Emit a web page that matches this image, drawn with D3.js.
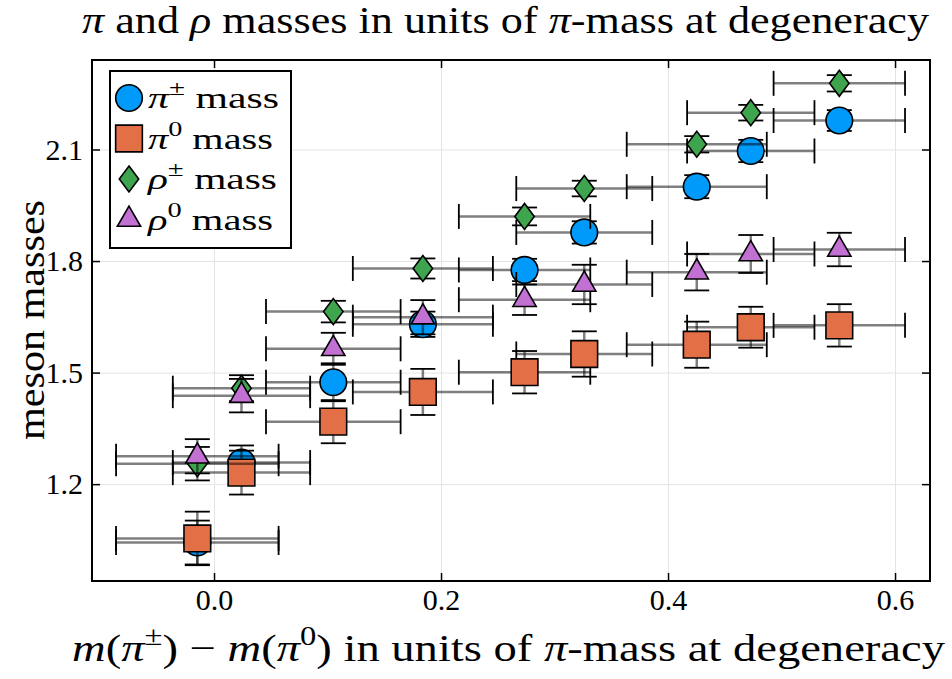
<!DOCTYPE html>
<html>
<head>
<meta charset="utf-8">
<script src="https://cdn.jsdelivr.net/npm/d3@7"></script>
<style>
  body { margin: 0; background: #fff; }
  svg { display: block; font-family: "Liberation Serif", "Times New Roman", serif; }
  text { white-space: pre; }
  .grid line { stroke: #e4e4e4; stroke-width: 1; }
  .grid .domain { display: none; }
  .axis .domain { display: none; }
  .axis line { stroke: #000; stroke-width: 1.5; }
  .axis text { font-family: "Liberation Serif", "Times New Roman", serif; font-size: 30px; fill: #000; }
</style>
</head>
<body>
<div id="chart"></div>
<script>
// x position of each lattice point and its horizontal uncertainty
var xValues = [-0.0147, 0.0242, 0.1051, 0.1840, 0.2736, 0.3262, 0.4253, 0.4729, 0.5509];
var xErrors = [0.0716, 0.0605, 0.0593, 0.0617, 0.0579, 0.0599, 0.0617, 0.0561, 0.0579];

// meson masses and their errors
var piChargedMass = [1.043, 1.258, 1.474, 1.630, 1.776, 1.877, 2.000, 2.096, 2.178];
var piChargedErr = [0.059, 0.046, 0.051, 0.034, 0.030, 0.030, 0.031, 0.030, 0.028];
var piNeutralMass = [1.054, 1.231, 1.368, 1.448, 1.501, 1.550, 1.575, 1.622, 1.627];
var piNeutralErr = [0.072, 0.059, 0.058, 0.062, 0.057, 0.061, 0.062, 0.055, 0.057];
var rhoChargedMass = [1.255, 1.458, 1.664, 1.780, 1.920, 1.995, 2.114, 2.199, 2.278];
var rhoChargedErr = [0.045, 0.035, 0.029, 0.027, 0.024, 0.021, 0.022, 0.021, 0.022];
var rhoNeutralMass = [1.275, 1.438, 1.564, 1.649, 1.696, 1.737, 1.770, 1.819, 1.831];
var rhoNeutralErr = [0.046, 0.045, 0.043, 0.046, 0.041, 0.053, 0.049, 0.051, 0.045];

var xTicks = [0, 0.2, 0.4, 0.6];
var yTicks = [1.2, 1.5, 1.8, 2.1];

// custom diamond, a bit wider than d3's built in one
var wideDiamond = {
  draw: function(context, size) {
    var h = Math.sqrt(size / 1.5);
    var w = h * 0.75;
    context.moveTo(0, -h);
    context.lineTo(w, 0);
    context.lineTo(0, h);
    context.lineTo(-w, 0);
    context.closePath();
  }
};

var series = [
  { name: [{ t: "π", it: true }, { t: "±", sup: true }, { t: " mass" }], values: piChargedMass, errors: piChargedErr,
    color: "#009afa", shape: d3.symbolCircle, size: 556 },
  { name: [{ t: "π", it: true }, { t: "0", sup: true }, { t: " mass" }], values: piNeutralMass, errors: piNeutralErr,
    color: "#e26f46", shape: d3.symbolSquare, size: 713 },
  { name: [{ t: "ρ", it: true }, { t: "±", sup: true }, { t: " mass" }], values: rhoChargedMass, errors: rhoChargedErr,
    color: "#3ea44e", shape: wideDiamond, size: 253 },
  { name: [{ t: "ρ", it: true }, { t: "0", sup: true }, { t: " mass" }], values: rhoNeutralMass, errors: rhoNeutralErr,
    color: "#c271d2", shape: d3.symbolTriangle, size: 235 }
];

var width = 952, height = 679;
var margin = { top: 60, right: 22, bottom: 98, left: 92 };
var chartWidth = width - margin.left - margin.right;
var chartHeight = height - margin.top - margin.bottom;

var svg = d3.select("#chart").append("svg")
  .attr("width", width)
  .attr("height", height);

// writes text made of plain / italic / superscript pieces
function richText(parent, parts, size) {
  var text = parent.append("text").attr("font-size", size).attr("fill", "#000");
  var shift = 0;
  parts.forEach(p => {
    var span = text.append("tspan").text(p.t);
    var target = p.sup ? -0.42 * size : 0;
    if (target !== shift) { span.attr("dy", target - shift); shift = target; }
    if (p.sup) span.attr("font-size", size * 0.7);
    if (p.it) span.attr("font-style", "italic");
  });
  return text;
}

var g = svg.append("g")
  .attr("transform", `translate(${margin.left}, ${margin.top})`);

var xScale = d3.scaleLinear().domain([-0.1075, 0.6308]).range([0, chartWidth]);
var yScale = d3.scaleLinear().domain([0.9395, 2.3407]).range([chartHeight, 0]);

// grid lines
g.append("g").attr("class", "grid")
  .attr("transform", `translate(0, ${chartHeight})`)
  .call(d3.axisBottom(xScale).tickValues(xTicks).tickSize(-chartHeight).tickFormat(""));
g.append("g").attr("class", "grid")
  .call(d3.axisLeft(yScale).tickValues(yTicks).tickSize(-chartWidth).tickFormat(""));

// axes with inward ticks on all four sides
g.append("g").attr("class", "x axis")
  .attr("transform", `translate(0, ${chartHeight})`)
  .call(d3.axisBottom(xScale).tickValues(xTicks).tickSize(-8).tickPadding(8).tickFormat(d3.format(".1f")));
g.append("g").attr("class", "axis")
  .call(d3.axisTop(xScale).tickValues(xTicks).tickSize(-8).tickFormat(""));
g.append("g").attr("class", "y axis")
  .call(d3.axisLeft(yScale).tickValues(yTicks).tickSize(-8).tickPadding(9).tickFormat(d3.format(".1f")));
g.append("g").attr("class", "axis")
  .attr("transform", `translate(${chartWidth}, 0)`)
  .call(d3.axisRight(yScale).tickValues(yTicks).tickSize(-8).tickFormat(""));

// series: x errors, y errors, then markers, one series after the other
var capHalf = 12.5;
series.forEach(s => {
  var pts = xValues.map((x, i) => ({ x: x, xe: xErrors[i], y: s.values[i], ye: s.errors[i] }));
  var layer = g.append("g").attr("class", "series");

  var xe = layer.append("g").selectAll("g").data(pts).enter().append("g");
  xe.append("line")
    .attr("x1", d => xScale(d.x - d.xe)).attr("x2", d => xScale(d.x + d.xe))
    .attr("y1", d => yScale(d.y)).attr("y2", d => yScale(d.y))
    .attr("stroke", "#000").attr("stroke-opacity", 0.5).attr("stroke-width", 2.5);
  [-1, 1].forEach(side => {
    xe.append("line")
      .attr("x1", d => xScale(d.x + side * d.xe)).attr("x2", d => xScale(d.x + side * d.xe))
      .attr("y1", d => yScale(d.y) - capHalf).attr("y2", d => yScale(d.y) + capHalf)
      .attr("stroke", "#000").attr("stroke-width", 1.8);
  });

  var ye = layer.append("g").selectAll("g").data(pts).enter().append("g");
  ye.append("line")
    .attr("x1", d => xScale(d.x)).attr("x2", d => xScale(d.x))
    .attr("y1", d => yScale(d.y - d.ye)).attr("y2", d => yScale(d.y + d.ye))
    .attr("stroke", "#000").attr("stroke-opacity", 0.5).attr("stroke-width", 2.5);
  [-1, 1].forEach(side => {
    ye.append("line")
      .attr("x1", d => xScale(d.x) - capHalf).attr("x2", d => xScale(d.x) + capHalf)
      .attr("y1", d => yScale(d.y + side * d.ye)).attr("y2", d => yScale(d.y + side * d.ye))
      .attr("stroke", "#000").attr("stroke-width", 1.8);
  });

  layer.append("g").selectAll("path").data(pts).enter().append("path")
    .attr("d", d3.symbol().type(s.shape).size(s.size))
    .attr("transform", d => `translate(${xScale(d.x)}, ${yScale(d.y)})`)
    .attr("fill", s.color)
    .attr("stroke", "#000")
    .attr("stroke-width", 1.6);
});

// frame
g.append("rect")
  .attr("width", chartWidth).attr("height", chartHeight)
  .attr("fill", "none").attr("stroke", "#000").attr("stroke-width", 2);

// legend
var legend = svg.append("g").attr("transform", "translate(110, 71)");
legend.append("rect")
  .attr("width", 181).attr("height", 177)
  .attr("fill", "#fff").attr("stroke", "#000").attr("stroke-width", 2);
var legendWidths = [131, 125, 129, 125];
series.forEach((s, i) => {
  var cy = 27 + i * 40.5;
  legend.append("path")
    .attr("d", d3.symbol().type(s.shape).size(s.size))
    .attr("transform", `translate(19, ${cy})`)
    .attr("fill", s.color).attr("stroke", "#000").attr("stroke-width", 1.6);
  richText(legend, s.name, 30)
    .attr("x", 38).attr("y", cy + 10)
    .attr("textLength", legendWidths[i]).attr("lengthAdjust", "spacingAndGlyphs");
});

// title and axis labels
richText(svg, [{ t: "π", it: true }, { t: " and " }, { t: "ρ", it: true },
  { t: " masses in units of " }, { t: "π", it: true }, { t: "-mass at degeneracy" }], 38)
  .attr("x", 82).attr("y", 33)
  .attr("textLength", 847).attr("lengthAdjust", "spacingAndGlyphs");

richText(svg, [{ t: "m", it: true }, { t: "(" }, { t: "π", it: true }, { t: "±", sup: true }, { t: ") − " },
  { t: "m", it: true }, { t: "(" }, { t: "π", it: true }, { t: "0", sup: true }, { t: ") in units of " },
  { t: "π", it: true }, { t: "-mass at degeneracy" }], 38)
  .attr("x", 72).attr("y", 661)
  .attr("textLength", 873).attr("lengthAdjust", "spacingAndGlyphs");

richText(svg, [{ t: "meson masses" }], 38)
  .attr("text-anchor", "middle")
  .attr("transform", "translate(44, 320) rotate(-90)")
  .attr("textLength", 240).attr("lengthAdjust", "spacingAndGlyphs");
</script>
</body>
</html>
